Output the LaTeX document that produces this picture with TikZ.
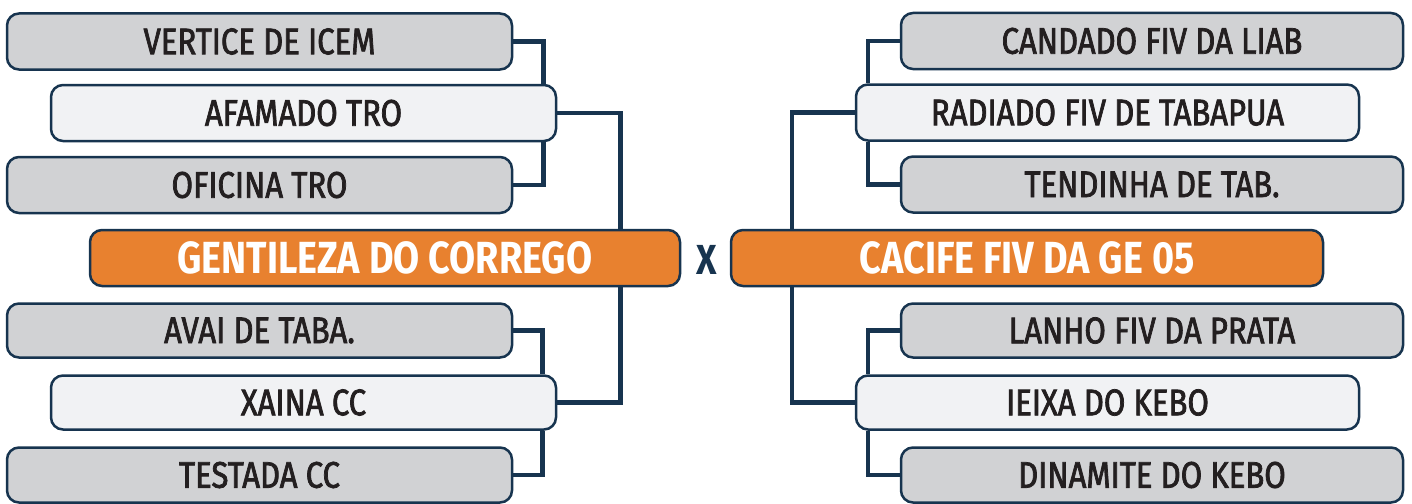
\documentclass[tikz,border=0pt]{standalone}
\usepackage{fontspec}
\newfontfamily\boxfont[FakeStretch=0.84,FakeBold=2]{Fira Sans}
\newfontfamily\teamfont[FakeStretch=0.84]{Fira Sans}
\usetikzlibrary{backgrounds}
\definecolor{navy}{HTML}{17344F}
\definecolor{gbox}{HTML}{D1D2D4}
\definecolor{lbox}{HTML}{F1F2F4}
\definecolor{orng}{HTML}{E8812F}
\definecolor{txt}{HTML}{231F20}
\tikzset{
  box/.style={draw=navy, line width=2.5pt, rounded corners=12pt, minimum width=505pt, minimum height=56pt, inner sep=0pt, text=txt, font=\boxfont\fontsize{37}{37}\selectfont},
  graybox/.style={box, fill=gbox},
  lightbox/.style={box, fill=lbox},
  teambox/.style={box, fill=orng, minimum width=590pt, text=white, font=\teamfont\bfseries\fontsize{45}{45}\selectfont},
  conn/.style={draw=navy, line width=4.5pt}
}
\begin{document}
\begin{tikzpicture}[x=1pt,y=-1pt]
\useasboundingbox (0,0) rectangle (1412,503);
% left
\node[graybox] (v) at (259.5,41.5) {VERTICE DE ICEM};
\node[lightbox] (a) at (303.5,113) {AFAMADO TRO};
\node[graybox] (o) at (259.5,185) {OFICINA TRO};
\node[teambox] (g) at (385,258) {GENTILEZA DO CORREGO};
\node[graybox, minimum height=54pt] (av) at (259.5,330.5) {AVAI DE TABA.};
\node[lightbox, minimum height=54pt] (xa) at (303.5,402.5) {XAINA CC};
\node[graybox, minimum height=55pt] (t) at (259.5,475) {TESTADA CC};
% right
\node[graybox, minimum width=502pt] (cd) at (1152,41) {CANDADO FIV DA LIAB};
\node[lightbox, minimum width=503pt] (rd) at (1107.5,112.5) {RADIADO FIV DE TABAPUA};
\node[graybox, minimum width=502pt] (td) at (1152,184.5) {TENDINHA DE TAB.};
\node[teambox, minimum width=592pt] (cf) at (1027,258) {CACIFE FIV DA GE 05};
\node[graybox, minimum width=502pt, minimum height=54pt] (lh) at (1152,330.5) {LANHO FIV DA PRATA};
\node[lightbox, minimum width=503pt, minimum height=54pt] (ie) at (1107.5,402.5) {IEIXA DO KEBO};
\node[graybox, minimum width=502pt, minimum height=55pt] (dn) at (1152,475) {DINAMITE DO KEBO};
% versus
\node[text=navy, font=\teamfont\bfseries\fontsize{42}{42}\selectfont, inner sep=0pt] (vs) at (707,260) {X};
\begin{scope}[on background layer]
\draw[conn] (v.east) -| ([xshift=-14pt]a.north east);
\draw[conn] (o.east) -| ([xshift=-14pt]a.south east);
\draw[conn] (a.east) -| ([xshift=-61pt]g.north east);
\draw[conn] (av.east) -| ([xshift=-15pt]xa.north east);
\draw[conn] (t.east) -| ([xshift=-15pt]xa.south east);
\draw[conn] (xa.east) -| ([xshift=-61pt]g.south east);
\draw[conn] (cd.west) -| ([xshift=13pt]rd.north west);
\draw[conn] (td.west) -| ([xshift=13pt]rd.south west);
\draw[conn] (rd.west) -| ([xshift=62pt]cf.north west);
\draw[conn] (lh.west) -| ([xshift=13pt]ie.north west);
\draw[conn] (dn.west) -| ([xshift=13pt]ie.south west);
\draw[conn] (ie.west) -| ([xshift=62pt]cf.south west);
\end{scope}
\end{tikzpicture}
\end{document}
